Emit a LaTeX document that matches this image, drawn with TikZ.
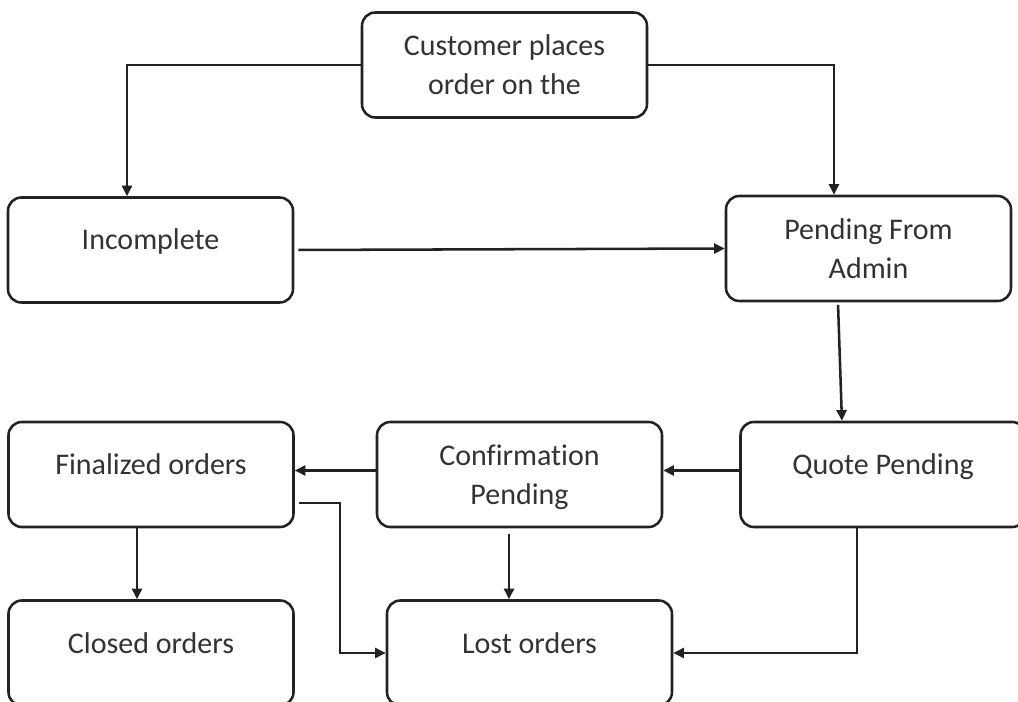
\documentclass[tikz,border=0pt]{standalone}
\usepackage{fontspec}
\setmainfont{Carlito}[Ligatures=CommonOff]
\usetikzlibrary{arrows.meta}
\definecolor{ln}{HTML}{222222}
\definecolor{tx}{HTML}{333333}
\begin{document}
\begin{tikzpicture}[x=0.75pt,y=-0.75pt,
  box/.style={draw=ln, line width=1.9pt, rounded corners=10pt, minimum width=213.75pt,
    minimum height=78.75pt, inner sep=0pt, text=tx, align=center,
    font=\fontsize{22.5pt}{29.25pt}\selectfont},
  one/.style={text height=12pt, text depth=12pt},
  two/.style={text depth=0pt},
  conn/.style={draw=ln, line width=1.9pt},
  arr/.style={conn, -{Triangle[length=8pt,width=7.5pt]}}]
\useasboundingbox (0,0) rectangle (1018,702);
\clip (0,0) rectangle (1018,702);

\node[box,two] (cust) at (504.5,65) {Customer places\\order on the};
\node[box,one] (inc) at (150.5,250) {Incomplete};
\node[box,two] (adm) at (868.5,248.5) {Pending From\\Admin};
\node[box,one] (fin) at (151,474.5) {Finalized orders};
\node[box,two] (conf) at (519.5,474.5) {Confirmation\\Pending};
\node[box,one] (quote) at (883,474.5) {Quote Pending};
\node[box,one] (closed) at (151,653) {Closed orders};
\node[box,one] (lost) at (529.5,653) {Lost orders};

\coordinate (k1) at (127,65);
\coordinate (k2) at (834,65);
\coordinate (c1) at (509,0);
\coordinate (c2) at (137,0);
\coordinate (q1) at (857,0);
\coordinate (f1) at (340,503);

\draw[arr] (cust.west) -- (k1) -- (k1 |- inc.north);
\draw[arr] (cust.east) -- (k2) -- (k2 |- adm.north);
\draw[arr, shorten <=3pt] (inc.east) -- (adm.west);
\draw[arr, shorten <=2pt] ([xshift=-22.9pt]adm.south) -- ([xshift=-30.8pt]quote.north);
\draw[arr] ([yshift=3pt]quote.west) -- ([yshift=3pt]conf.east);
\draw[arr] ([yshift=3pt]conf.west) -- ([yshift=3pt]fin.east);
\draw[arr] (fin.south -| c2) -- (closed.north -| c2);
\draw[arr, shorten <=3pt] (fin.east |- f1) -- (f1) |- (lost.west);
\draw[arr, shorten <=4.5pt] (conf.south -| c1) -- (lost.north -| c1);
\draw[arr] (quote.south -| q1) |- (lost.east);
\end{tikzpicture}
\end{document}
